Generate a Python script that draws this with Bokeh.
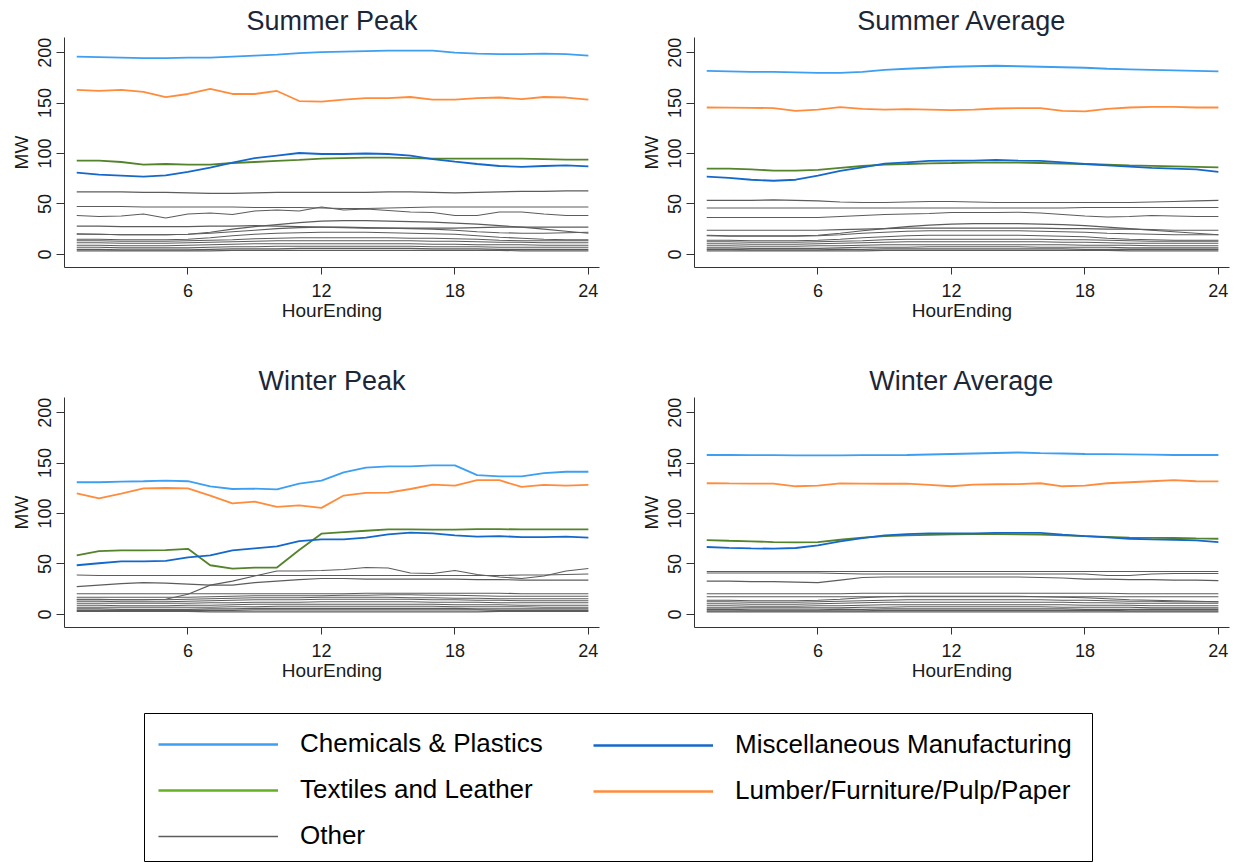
from bokeh.plotting import figure
from bokeh.layouts import column, row
from bokeh.models import Range1d, FixedTicker, Legend, LegendItem
from bokeh.embed import file_html
from bokeh.resources import INLINE

hours = list(range(1, 25))
x_ticks = [6, 12, 18, 24]
y_ticks = [0, 50, 100, 150, 200]

# ---------------- Summer Peak ----------------
sp_chem = [196, 195.5, 195, 194.5, 194.5, 195, 195, 196, 197, 198, 199.5, 200.5, 201, 201.5, 202, 202, 202, 200, 199, 198.5, 198.5, 199, 198.5, 197]
sp_misc = [81, 79, 78, 77, 78.4, 81.7, 86, 91, 95.5, 98, 100.5, 99.5, 99.5, 100, 99.5, 98, 94.5, 92, 89.6, 87.6, 86.7, 87.6, 88.3, 87.3]
sp_text = [93, 93, 91.6, 89, 89.6, 89, 89, 90.6, 91.6, 92.6, 93.6, 95, 95.5, 96, 96, 95.5, 95, 95, 95, 95, 95, 94.5, 94, 94]
sp_lumb = [163, 162, 163, 161, 156, 159, 164, 159, 159, 162, 152, 151.5, 153.5, 155, 155, 156, 153.5, 153.5, 155, 155.5, 154, 156, 155.5, 153.5]
sp_other = [
    [62, 62, 62, 61.5, 61.5, 61, 60.5, 60.5, 61, 61.5, 61.5, 61.5, 61.5, 61.5, 62, 62, 61.5, 61, 61.5, 62, 62.5, 62.5, 63, 63],
    [47.5, 47.5, 47.5, 47, 47, 47, 47, 47, 46.5, 46.5, 46.5, 46, 45.5, 45.5, 46, 46.5, 47, 47, 47, 47, 47, 47, 47, 47],
    [38.5, 37.5, 38, 40, 36, 40, 41, 39.5, 43, 44, 43, 47, 44, 45, 43.5, 42, 41.5, 38.5, 38.5, 42, 42, 40, 38.5, 38.5],
    [28, 28, 27.5, 27.5, 27.5, 27.5, 28, 28, 28.5, 28, 27.5, 27, 26.5, 26, 26, 26, 26, 26, 26.5, 27, 27, 27, 27, 27],
    [20, 20, 19.5, 19.5, 19.5, 20, 22, 25, 27.5, 29.5, 31.5, 33, 33.5, 33.5, 33, 32.5, 32, 31, 30, 28.5, 27, 25, 23, 21],
    [20.5, 20, 19.5, 19.5, 19.5, 20, 21, 22.5, 24, 25.5, 26.5, 27, 27, 26.5, 26, 25.5, 25, 24, 22.5, 21.5, 21, 21, 21.5, 22],
    [15, 15, 14.5, 14.5, 14.5, 15, 16.5, 18.5, 20, 21, 21.5, 22, 22, 22, 21.5, 21, 20.5, 20, 18.5, 17, 16, 15, 14.5, 14.5],
    [13.5, 13.5, 13, 13, 13, 13.5, 14, 14.5, 15.5, 16, 16.5, 16.5, 16.5, 16.5, 16.5, 16, 16, 15.5, 15, 14, 13.5, 13.5, 13.5, 13.5],
    [11.5, 11.5, 11, 11, 11, 11.5, 12, 12.5, 13, 13.5, 13.5, 13.5, 13.5, 13.5, 13.5, 13.5, 13, 13, 12.5, 12, 12, 11.5, 11.5, 11.5],
    [9, 9, 8.5, 8.5, 8.5, 9, 9.5, 10, 10.5, 10.5, 10.5, 10.5, 10.5, 10.5, 10.5, 10.5, 10, 10, 9.5, 9.5, 9.5, 9, 9, 9],
    [7, 7, 6.5, 6.5, 6.5, 6.5, 7, 7.5, 7.5, 8, 8, 8, 8, 8, 8, 8, 7.5, 7.5, 7.5, 7, 7, 7, 7, 7],
    [5, 5, 4.5, 4.5, 4.5, 4.5, 5, 5.5, 5.5, 5.5, 6, 6, 6, 6, 6, 6, 5.5, 5.5, 5.5, 5, 5, 5, 5, 5],
    [3.5, 3.5, 3.5, 3.5, 3.5, 3.5, 3.5, 4, 4, 4, 4, 4, 4, 4, 4, 4, 4, 4, 4, 4, 3.5, 3.5, 3.5, 3.5],
]

# ---------------- Summer Average ----------------
sa_chem = [182, 181.5, 181, 181, 180.5, 180, 180, 181, 183, 184, 185, 186, 186.5, 187, 186.5, 186, 185.5, 185, 184, 183.5, 183, 182.5, 182, 181.5]
sa_misc = [77, 75.8, 74, 73, 74, 78, 82.7, 86.3, 90, 91.3, 92.6, 93, 93, 93.6, 93, 92.6, 91.3, 89.6, 88.3, 87, 85.7, 85, 84.3, 81.7]
sa_text = [85, 85, 84.3, 83, 83, 83.7, 85.7, 87.6, 89, 89.6, 90.3, 90.6, 91, 91.3, 91, 90.6, 90, 89.6, 89, 88.3, 87.8, 87.3, 86.8, 86.3]
sa_lumb = [145.6, 145.5, 145.3, 145, 142.3, 143.6, 146, 144.3, 143.6, 144, 143.6, 143, 143.6, 144.6, 145, 145, 142.3, 141.7, 144.3, 145.6, 146.3, 146.3, 145.6, 145.6]
sa_other = [
    [53.5, 53.5, 53.5, 54, 53.5, 53, 52, 51.5, 51.5, 52, 52.5, 52.5, 52, 51.5, 51.5, 51.5, 51.5, 51.5, 51.5, 51.5, 52, 52.5, 53, 53.5],
    [46, 46, 46, 46, 46, 46, 46, 46, 46, 46, 46, 46, 46, 46, 46, 46, 46, 46.5, 46.5, 46.5, 46.5, 46.5, 46.5, 46.5],
    [36.5, 36.5, 36.5, 36.5, 36.5, 36.5, 37.5, 38.5, 39.5, 40, 40.5, 41.5, 41.5, 41.5, 41.8, 41, 39.5, 38, 37, 37.5, 38.5, 38, 37.5, 37.5],
    [24, 24, 24, 24, 24, 24, 24.5, 25, 25.5, 26, 26, 26, 26, 26, 26, 26, 25.5, 25.5, 25, 25, 24.5, 24, 24, 24],
    [19, 18.5, 18.5, 18.5, 18.5, 19, 21, 23.5, 25.5, 27.5, 29, 30, 30.5, 30.5, 30.5, 30, 29.5, 28.5, 27, 25.5, 24, 22.5, 21, 19.5],
    [18.5, 18, 18, 18, 18, 18.5, 19.5, 21, 22, 23, 23.5, 23.5, 23.5, 23.5, 23.5, 23, 22.5, 22, 21, 20.5, 20, 19.5, 19.5, 19.5],
    [14, 14, 13.5, 13.5, 13.5, 14, 15, 16.5, 17.5, 18.5, 19, 19, 19, 19, 19, 18.5, 18, 17.5, 16, 15, 14.5, 14, 14, 14],
    [12.5, 12.5, 12, 12, 12, 12.5, 13, 13.5, 14.5, 15, 15, 15, 15, 15, 15, 15, 14.5, 14.5, 14, 13.5, 13, 13, 13, 13],
    [10.5, 10.5, 10, 10, 10, 10.5, 11, 11.5, 12, 12.5, 12.5, 12.5, 12.5, 12.5, 12.5, 12.5, 12, 12, 11.5, 11, 11, 11, 11, 11],
    [8.5, 8.5, 8, 8, 8, 8.5, 8.5, 9, 9.5, 9.5, 9.5, 9.5, 9.5, 9.5, 9.5, 9.5, 9.5, 9, 9, 9, 8.5, 8.5, 8.5, 8.5],
    [6.5, 6.5, 6, 6, 6, 6, 6.5, 7, 7, 7, 7.5, 7.5, 7.5, 7.5, 7.5, 7, 7, 7, 7, 6.5, 6.5, 6.5, 6.5, 6.5],
    [5, 5, 4.5, 4.5, 4.5, 4.5, 5, 5, 5.5, 5.5, 5.5, 5.5, 5.5, 5.5, 5.5, 5.5, 5.5, 5, 5, 5, 5, 5, 5, 5],
    [3.5, 3.5, 3.5, 3.5, 3.5, 3.5, 3.5, 3.5, 4, 4, 4, 4, 4, 4, 4, 4, 4, 4, 4, 3.5, 3.5, 3.5, 3.5, 3.5],
]

# ---------------- Winter Peak ----------------
wp_chem = [131, 131, 131.6, 132, 132.6, 132, 127, 124.3, 124.6, 124, 129.6, 132.6, 140.8, 145.4, 146.7, 146.7, 147.7, 147.7, 138, 136.8, 136.8, 140, 141.4, 141.4]
wp_misc = [48.7, 50.7, 52.6, 52.6, 53, 56.6, 58.5, 63.5, 65.5, 67.4, 72.7, 74.3, 74.3, 76, 79.3, 81, 80.3, 78.3, 77, 77.6, 76.6, 76.6, 77, 76]
wp_text = [58.5, 62.8, 63.5, 63.5, 63.8, 65, 48.7, 45.4, 46.4, 46.4, 63.8, 80, 81.6, 82.9, 84.2, 84.2, 84, 84, 84.5, 84.5, 84.2, 84.2, 84.2, 84.2]
wp_lumb = [120, 115, 119.7, 125, 125.3, 125, 117.8, 110, 111.8, 106.6, 108, 105.6, 117.8, 120.4, 120.7, 124.3, 128.6, 127.6, 133, 133, 126.3, 128.3, 127.6, 128.3]
wp_other = [
    [39, 38.5, 38.5, 38.5, 38.5, 38.5, 38.5, 38.5, 38.5, 38.5, 38.5, 38.5, 38.5, 38.5, 38.5, 38.5, 38.5, 38.5, 38.5, 38.5, 39, 39, 39.5, 40],
    [14.5, 14.5, 14.5, 14.5, 15, 20, 29, 33, 38, 43, 43, 43.5, 44.5, 46.5, 46, 41, 40.5, 43.5, 39.5, 37, 35.5, 38, 43, 45.5],
    [27.5, 29, 30.5, 31.5, 31, 30, 29, 29, 31.5, 33, 34.5, 35.5, 35.5, 35, 35, 35, 35, 35, 34.5, 34.5, 34, 34, 34, 34],
    [20.5, 20.5, 20.5, 20.5, 20.5, 20.5, 20.5, 20.5, 20.5, 20.5, 20.5, 20.5, 20.5, 21, 21, 21, 21, 21, 21, 21, 20.5, 20.5, 20.5, 20.5],
    [17, 17, 17, 17, 17, 17, 17.5, 18, 18.5, 18.5, 18.5, 18.5, 19, 19, 19.5, 19.5, 19, 19, 18.5, 18, 18, 18, 18, 18],
    [15, 15, 14.5, 14.5, 14.5, 15, 15.5, 16, 16.5, 16.5, 16.5, 17, 17, 17, 17, 16.5, 16.5, 16, 16, 15.5, 15.5, 15.5, 15.5, 15.5],
    [13, 13, 12.5, 12.5, 12.5, 13, 13.5, 14, 14.5, 14.5, 14.5, 15, 15, 15, 15, 15, 14.5, 14.5, 14, 14, 13.5, 13.5, 13.5, 13.5],
    [11, 11, 11, 11, 11, 11, 11.5, 11.5, 12, 12, 12, 12.5, 12.5, 12.5, 12.5, 12.5, 12, 12, 12, 11.5, 11.5, 11.5, 11.5, 11.5],
    [9, 9, 8.5, 8.5, 8.5, 9, 9, 9.5, 10, 10, 10, 10, 10, 10, 10, 10, 10, 9.5, 9.5, 9.5, 9, 9, 9, 9],
    [7, 7, 7, 7, 7, 7, 7, 7.5, 7.5, 8, 8, 8, 8, 8, 8, 8, 8, 7.5, 7.5, 7.5, 7.5, 7, 7, 7],
    [5.5, 5.5, 5, 5, 5, 5, 5.5, 5.5, 6, 6, 6, 6, 6, 6, 6, 6, 6, 6, 5.5, 5.5, 5.5, 5.5, 5.5, 5.5],
    [4, 4, 4, 4, 4, 4, 4, 4, 4.5, 4.5, 4.5, 4.5, 4.5, 4.5, 4.5, 4.5, 4.5, 4.5, 4.5, 4, 4, 4, 4, 4],
    [3, 3, 3, 3, 3, 3, 2.5, 2.5, 2.5, 2.5, 2.5, 2.5, 2.5, 2.5, 2.5, 2.5, 2.5, 2.5, 2.5, 3, 3, 3, 3, 3],
]

# ---------------- Winter Average ----------------
wa_chem = [158, 158, 157.8, 157.8, 157.6, 157.6, 157.6, 157.8, 157.9, 158, 158.5, 159, 159.5, 160, 160.5, 159.9, 159.5, 159, 158.8, 158.6, 158.3, 158, 158, 158]
wa_misc = [66.8, 66, 65.5, 65.1, 65.8, 68.4, 72.4, 75.7, 78.3, 79.6, 80.3, 80.3, 80.3, 80.9, 80.9, 80.9, 79, 77.6, 76.3, 75, 74.3, 74, 73.4, 71.7]
wa_text = [73.7, 73, 72.4, 71.7, 71.4, 71.7, 74, 76, 77.6, 78.3, 78.8, 79.3, 79.5, 79.6, 79.3, 79, 78.3, 77.6, 76.8, 76, 75.8, 75.7, 75.3, 75]
wa_lumb = [130, 129.8, 129.7, 129.6, 127, 127.6, 129.9, 129.6, 129.5, 129.6, 128.3, 127, 128.6, 129, 129.2, 130, 127, 127.6, 130, 131, 132, 133, 132, 131.9]
wa_other = [
    [42.5, 42.5, 42.5, 42.5, 42.5, 42.5, 42.5, 42.5, 42.5, 42.5, 42.5, 42.5, 42.5, 42.5, 42.5, 42.5, 42.5, 42.5, 42.5, 42.5, 42.5, 42.5, 42.5, 42.5],
    [41, 41, 41, 41, 41, 41, 40.5, 40, 40, 40, 40, 40, 40, 40, 40, 40, 40, 40, 38.5, 38.5, 40, 40.5, 40.5, 40.5],
    [33, 33, 32.5, 32.5, 32, 31.5, 34, 36.5, 37, 37, 37, 37, 37, 37, 37, 36.5, 36, 35, 35, 34.5, 34.5, 34, 34, 33.5],
    [20.5, 20.5, 20.5, 20.5, 20.5, 20.5, 20.5, 21, 21, 21, 21, 21, 21, 21, 21, 21, 21, 21, 21, 20.5, 20.5, 20.5, 20.5, 20.5],
    [17.5, 17.5, 17.5, 17.5, 17.5, 17.5, 17.5, 17.5, 17.5, 17.5, 17.5, 17.5, 17.5, 17.5, 17.5, 17.5, 17.5, 17.5, 17.5, 17.5, 17.5, 17.5, 17.5, 17.5],
    [14, 14, 13.5, 13.5, 13.5, 14, 15, 16.5, 17.5, 18, 18, 18, 18, 18, 18, 17.5, 17, 16.5, 15.5, 14.5, 14, 13.5, 13, 12.5],
    [12.5, 12.5, 12, 12, 12, 12.5, 13, 13.5, 14, 14.5, 14.5, 14.5, 14.5, 14.5, 14.5, 14.5, 14, 14, 13.5, 13, 13, 12.5, 12.5, 12.5],
    [10.5, 10.5, 10, 10, 10, 10.5, 11, 11.5, 12, 12, 12, 12, 12, 12, 12, 12, 12, 11.5, 11.5, 11, 11, 11, 11, 11],
    [8.5, 8.5, 8, 8, 8, 8.5, 8.5, 9, 9.5, 9.5, 9.5, 9.5, 9.5, 9.5, 9.5, 9.5, 9.5, 9, 9, 9, 8.5, 8.5, 8.5, 8.5],
    [6.5, 6.5, 6.5, 6.5, 6.5, 6.5, 6.5, 7, 7, 7.5, 7.5, 7.5, 7.5, 7.5, 7.5, 7.5, 7, 7, 7, 7, 6.5, 6.5, 6.5, 6.5],
    [5, 5, 4.5, 4.5, 4.5, 4.5, 5, 5, 5.5, 5.5, 5.5, 5.5, 5.5, 5.5, 5.5, 5.5, 5.5, 5, 5, 5, 5, 5, 5, 5],
    [3.5, 3.5, 3.5, 3.5, 3.5, 3.5, 3.5, 3.5, 4, 4, 4, 4, 4, 4, 4, 4, 4, 4, 4, 3.5, 3.5, 3.5, 3.5, 3.5],
    [2.5, 2.5, 2.5, 2.5, 2.5, 2.5, 2.5, 2.5, 2.5, 2.5, 2.5, 2.5, 2.5, 2.5, 2.5, 2.5, 2.5, 2.5, 2.5, 2.5, 2.5, 2.5, 2.5, 2.5],
]

series_labels = ["Chemicals & Plastics", "Miscellaneous Manufacturing", "Textiles and Leather",
                 "Lumber/Furniture/Pulp/Paper", "Other"]
C_CHEM = "#3d9ff2"
C_MISC = "#1468cc"
C_TEXT = "#53832a"
C_TEXT_LEG = "#64b022"
C_LUMB = "#ff8c3c"
C_OTHER = "#5c5c5c"

FONT = "Liberation Sans"
TXT = "#1a1a1a"


def make_panel(title, chem, misc, text, lumb, others, mb_left, mb_right, mb_top, mb_bottom, t_off):
    p = figure(frame_width=535, frame_height=230, output_backend="svg", toolbar_location=None,
               x_range=Range1d(0.45, 24.5), y_range=Range1d(-13, 215),
               min_border_left=mb_left, min_border_right=mb_right,
               min_border_top=mb_top, min_border_bottom=mb_bottom)
    p.title.text = title
    p.title.align = "center"
    p.title.offset = t_off
    p.title.text_font = FONT
    p.title.text_font_size = "27px"
    p.title.text_font_style = "normal"
    p.title.text_color = "#1c2636"
    p.title.standoff = 4
    p.outline_line_color = None
    p.grid.visible = False
    p.background_fill_color = "white"
    p.border_fill_color = "white"
    for o in others:
        p.line(hours, o, line_color=C_OTHER, line_width=1.1)
    p.line(hours, chem, line_color=C_CHEM, line_width=1.8)
    p.line(hours, lumb, line_color=C_LUMB, line_width=1.8)
    p.line(hours, text, line_color=C_TEXT, line_width=1.8)
    p.line(hours, misc, line_color=C_MISC, line_width=1.8)

    p.xaxis.ticker = FixedTicker(ticks=x_ticks)
    p.yaxis.ticker = FixedTicker(ticks=y_ticks)
    p.xaxis.axis_label = "HourEnding"
    p.yaxis.axis_label = "MW"
    p.yaxis.major_label_orientation = "vertical"
    for ax in (p.xaxis, p.yaxis):
        ax.axis_line_color = "#333333"
        ax.major_tick_line_color = "#333333"
        ax.major_tick_in = 0
        ax.minor_tick_line_color = None
        ax.major_label_text_font = FONT
        ax.major_label_text_font_size = "18px"
        ax.major_label_text_color = TXT
        ax.axis_label_text_font = FONT
        ax.axis_label_text_font_size = "19px"
        ax.axis_label_text_font_style = "normal"
        ax.axis_label_text_color = TXT
    p.xaxis.major_tick_out = 7
    p.yaxis.major_tick_out = 8
    p.xaxis.major_label_standoff = 9
    p.xaxis.axis_label_standoff = 0
    p.yaxis.major_label_standoff = 5
    p.yaxis.axis_label_standoff = 4
    return p


p1 = make_panel("Summer Peak", sp_chem, sp_misc, sp_text, sp_lumb, sp_other, 64, 21, 37, 88, 8)
p2 = make_panel("Summer Average", sa_chem, sa_misc, sa_text, sa_lumb, sa_other, 74, 2, 37, 88, 9)
p3 = make_panel("Winter Peak", wp_chem, wp_misc, wp_text, wp_lumb, wp_other, 64, 21, 42, 73, 8)
p4 = make_panel("Winter Average", wa_chem, wa_misc, wa_text, wa_lumb, wa_other, 74, 2, 42, 73, 9)

# ---------------- Legend ----------------
pl = figure(frame_width=948, frame_height=149, output_backend="svg", toolbar_location=None,
            x_range=Range1d(-100, -99), y_range=Range1d(-100, -99),
            x_axis_type=None, y_axis_type=None,
            min_border_left=144, min_border_right=139, min_border_top=13, min_border_bottom=0)
pl.grid.visible = False
pl.outline_line_color = "#000000"
pl.outline_line_width = 1
leg_series = [sp_chem, sp_misc, sp_text, sp_lumb, sp_other[0]]
leg_colors = [C_CHEM, C_MISC, C_TEXT_LEG, C_LUMB, C_OTHER]
leg_widths = [2.5, 2.5, 2.5, 2.5, 1.5]
rends = []
for s, c, w in zip(leg_series, leg_colors, leg_widths):
    # real series drawn outside the legend frame range: only the legend glyph shows
    rends.append(pl.line(hours, s, line_color=c, line_width=w))


def style_legend(lg):
    lg.label_text_font = FONT
    lg.label_text_font_size = "26px"
    lg.label_text_color = "#000000"
    lg.glyph_width = 120
    lg.glyph_height = 30
    lg.label_height = 30
    lg.label_standoff = 22
    lg.spacing = 15
    lg.padding = 0
    lg.margin = 0
    lg.border_line_color = None
    lg.background_fill_alpha = 0


leg1 = Legend(items=[LegendItem(label=series_labels[0], renderers=[rends[0]]),
                     LegendItem(label=series_labels[2], renderers=[rends[2]]),
                     LegendItem(label=series_labels[4], renderers=[rends[4]])],
              location=(14, 11))
leg2 = Legend(items=[LegendItem(label=series_labels[1], renderers=[rends[1]]),
                     LegendItem(label=series_labels[3], renderers=[rends[3]])],
              location=(449, 56))
style_legend(leg1)
style_legend(leg2)
pl.add_layout(leg1, "center")
pl.add_layout(leg2, "center")

layout = column(row(p1, p2), row(p3, p4), pl, spacing=0)
open("out.html", "w").write(file_html(layout, INLINE))
